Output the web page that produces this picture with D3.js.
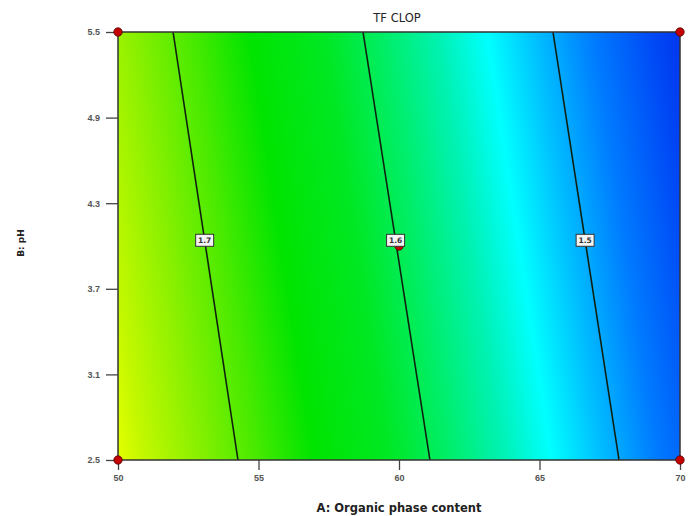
<!DOCTYPE html>
<html>
<head>
<meta charset="utf-8">
<script src="https://d3js.org/d3.v7.min.js"></script>
<style>
  html, body { margin: 0; padding: 0; background: #fff; }
  svg { display: block; font-family: "DejaVu Sans", "Open Sans", sans-serif; }
</style>
</head>
<body>
<svg id="chart" width="688" height="516"></svg>
<script>
// Factor ranges and tick labels
const xDomain = [50, 70];
const yDomain = [2.5, 5.5];
const xTicks = [50, 55, 60, 65, 70];
const yTicks = [2.5, 3.1, 3.7, 4.3, 4.9, 5.5];

// Contour lines of TF CLOP: level, A at pH 5.5 (top) and A at pH 2.5 (bottom)
const contourLevels = [1.7, 1.6, 1.5];
const contourTopA = [51.96, 58.72, 65.48];
const contourBottomA = [54.27, 61.10, 67.83];
const contourLabelB = 4.04;

// Design points (A, pH)
const designA = [50, 50, 70, 70, 60];
const designB = [2.5, 5.5, 2.5, 5.5, 4.0];

// Response colour ramp: TF value -> colour
const rampTF = [1.77, 1.75, 1.72, 1.69, 1.66, 1.62, 1.59, 1.56, 1.535, 1.51, 1.48, 1.45, 1.43];
const rampColor = ["#e4ff00", "#c4f800", "#88f000", "#48ea00", "#00e400", "#00e824", "#00ee66",
                   "#00f2b4", "#00ffff", "#00c0ff", "#007cff", "#004cf6", "#0036ee"];

const svg = d3.select("#chart");
const x = d3.scaleLinear().domain(xDomain).range([118, 680]);
const y = d3.scaleLinear().domain(yDomain).range([460, 32]);

// Linear response surface in pixel space: unit normal to the contour lines
const p0 = [x(contourTopA[0]), y(yDomain[1])];
const p1 = [x(contourBottomA[0]), y(yDomain[0])];
const dir = [p1[0] - p0[0], p1[1] - p0[1]];
const len = Math.hypot(dir[0], dir[1]);
const n = [-dir[1] / len, dir[0] / len];            // points toward larger A
const s = p => (p[0] - p0[0]) * n[0] + (p[1] - p0[1]) * n[1];
const mid = i => [(x(contourTopA[i]) + x(contourBottomA[i])) / 2, (y(yDomain[0]) + y(yDomain[1])) / 2];
const last = contourLevels.length - 1;
const sFirst = s(mid(0)), sLast = s(mid(last));
const sOfTF = t => sFirst + (t - contourLevels[0]) / (contourLevels[last] - contourLevels[0]) * (sLast - sFirst);

// Gradient spans from the bottom-left corner to the top-right corner along the normal
const cBL = [x(xDomain[0]), y(yDomain[0])];
const cTR = [x(xDomain[1]), y(yDomain[1])];
const sStart = s(cBL), sEnd = s(cTR);
const defs = svg.append("defs");
const grad = defs.append("linearGradient")
  .attr("id", "surface")
  .attr("gradientUnits", "userSpaceOnUse")
  .attr("x1", cBL[0]).attr("y1", cBL[1])
  .attr("x2", cBL[0] + n[0] * (sEnd - sStart))
  .attr("y2", cBL[1] + n[1] * (sEnd - sStart));
grad.selectAll("stop")
  .data(rampTF.map((t, i) => ({ t, c: rampColor[i] })))
  .join("stop")
  .attr("offset", d => Math.max(0, Math.min(1, (sOfTF(d.t) - sStart) / (sEnd - sStart))))
  .attr("stop-color", d => d.c);

// Filled surface
svg.append("rect")
  .attr("x", x(xDomain[0])).attr("y", y(yDomain[1]))
  .attr("width", x(xDomain[1]) - x(xDomain[0]))
  .attr("height", y(yDomain[0]) - y(yDomain[1]))
  .attr("fill", "url(#surface)");

// Contour lines
svg.append("g").selectAll("line")
  .data(contourLevels.map((lv, i) => ({ lv, top: contourTopA[i], bot: contourBottomA[i] })))
  .join("line")
  .attr("x1", d => x(d.top)).attr("y1", y(yDomain[1]))
  .attr("x2", d => x(d.bot)).attr("y2", y(yDomain[0]))
  .attr("stroke", "#102010").attr("stroke-width", 1.6);

// Frame
svg.append("rect")
  .attr("x", x(xDomain[0])).attr("y", y(yDomain[1]))
  .attr("width", x(xDomain[1]) - x(xDomain[0]))
  .attr("height", y(yDomain[0]) - y(yDomain[1]))
  .attr("fill", "none").attr("stroke", "#333").attr("stroke-width", 1.5);

// Axes
const axisStyle = g => {
  g.select(".domain").remove();
  g.selectAll(".tick line").attr("stroke", "#444").attr("stroke-width", 1.3);
  g.selectAll(".tick text").attr("fill", "#555").attr("font-size", 9).attr("font-weight", "bold");
};
svg.append("g")
  .attr("transform", `translate(0,${y(yDomain[0])})`)
  .call(d3.axisBottom(x).tickValues(xTicks).tickFormat(d3.format("d")).tickSize(10).tickPadding(5))
  .call(axisStyle);
svg.append("g")
  .attr("transform", `translate(${x(xDomain[0])},0)`)
  .call(d3.axisLeft(y).tickValues(yTicks).tickFormat(d3.format(".1f")).tickSize(12).tickPadding(6))
  .call(axisStyle);

// Design points
svg.append("g").selectAll("circle")
  .data(designA.map((a, i) => [a, designB[i]]))
  .join("circle")
  .attr("cx", d => x(d[0])).attr("cy", d => y(d[1]))
  .attr("r", 4.2)
  .attr("fill", "#c40000").attr("stroke", "#500").attr("stroke-width", 0.8);

// Contour labels
const lab = svg.append("g").selectAll("g")
  .data(contourLevels.map((lv, i) => {
    const t = (contourLabelB - yDomain[1]) / (yDomain[0] - yDomain[1]);
    return { lv, a: contourTopA[i] + t * (contourBottomA[i] - contourTopA[i]) };
  }))
  .join("g")
  .attr("transform", d => `translate(${x(d.a)},${y(contourLabelB)})`);
lab.append("rect")
  .attr("x", -9).attr("y", -6).attr("width", 18).attr("height", 12)
  .attr("fill", "#f4f4f4").attr("stroke", "#333").attr("stroke-width", 1);
lab.append("text")
  .attr("text-anchor", "middle").attr("dy", "0.35em")
  .attr("font-size", 7.5).attr("font-weight", "bold").attr("fill", "#333")
  .text(d => d3.format(".1f")(d.lv));

// Titles
svg.append("text")
  .attr("x", 397).attr("y", 22)
  .attr("text-anchor", "middle").attr("font-size", 11.5).attr("fill", "#222")
  .text("TF CLOP");
svg.append("text")
  .attr("x", 399).attr("y", 512)
  .attr("text-anchor", "middle").attr("font-size", 11.5).attr("font-weight", "bold").attr("fill", "#222")
  .text("A: Organic phase content");
svg.append("text")
  .attr("transform", `translate(24,243) rotate(-90)`)
  .attr("text-anchor", "middle").attr("font-size", 9).attr("font-weight", "bold").attr("fill", "#222")
  .text("B: pH");
</script>
</body>
</html>
